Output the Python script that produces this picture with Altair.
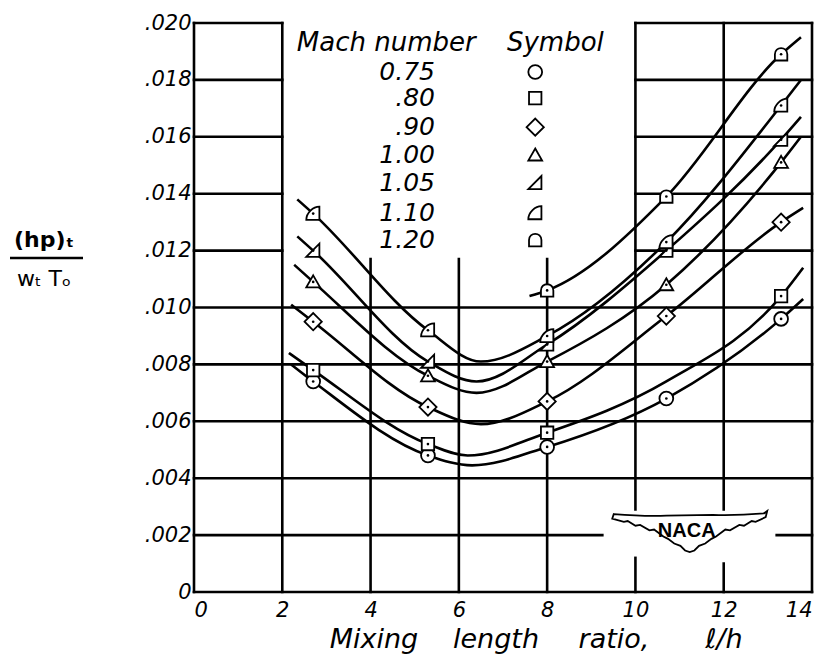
import altair as alt
import pandas as pd

# ---------------- data ----------------
mach_labels = ["0.75", ".80", ".90", "1.00", "1.05", "1.10", "1.20"]

# plotted symbols
sym_x_075 = [2.7, 5.3, 8.0, 10.7, 13.3]
sym_y_075 = [0.0074, 0.0048, 0.0051, 0.0068, 0.0096]
sym_x_080 = [2.7, 5.3, 8.0, 13.3]
sym_y_080 = [0.0078, 0.0052, 0.0056, 0.0104]
sym_x_090 = [2.7, 5.3, 8.0, 10.7, 13.3]
sym_y_090 = [0.0095, 0.0065, 0.0067, 0.0097, 0.0130]
sym_x_100 = [2.7, 5.3, 8.0, 10.7, 13.3]
sym_y_100 = [0.0109, 0.0076, 0.0081, 0.0108, 0.0151]
sym_x_105 = [2.7, 5.3, 8.0, 10.7, 13.3]
sym_y_105 = [0.0120, 0.0081, 0.0087, 0.0120, 0.0159]
sym_x_110 = [2.7, 5.3, 8.0, 10.7, 13.3]
sym_y_110 = [0.0133, 0.0092, 0.0090, 0.0123, 0.0171]
sym_x_120 = [8.0, 10.7, 13.3]
sym_y_120 = [0.0106, 0.0139, 0.0189]

# faired curves (ends, symbols and minima)
crv_x_075 = [2.2, 2.7, 5.3, 6.3, 8.0, 10.7, 13.3, 13.8]
crv_y_075 = [0.0080, 0.0074, 0.0048, 0.00445, 0.0051, 0.0068, 0.0096, 0.0103]
crv_x_080 = [2.15, 2.7, 5.3, 6.2, 8.0, 10.7, 13.3, 13.8]
crv_y_080 = [0.0084, 0.0078, 0.0052, 0.0048, 0.0056, 0.0074, 0.0104, 0.0114]
crv_x_090 = [2.2, 2.7, 5.3, 6.5, 8.0, 10.7, 13.3, 13.8]
crv_y_090 = [0.0101, 0.0095, 0.0065, 0.0059, 0.0067, 0.0097, 0.0130, 0.0135]
crv_x_100 = [2.27, 2.7, 5.3, 6.4, 8.0, 10.7, 13.3, 13.75]
crv_y_100 = [0.0115, 0.0109, 0.0076, 0.0070, 0.0081, 0.0108, 0.0151, 0.0160]
crv_x_105 = [2.34, 2.7, 5.3, 6.4, 8.0, 10.7, 13.3, 13.75]
crv_y_105 = [0.0125, 0.0120, 0.0081, 0.0074, 0.0087, 0.0120, 0.0159, 0.0167]
crv_x_110 = [2.34, 2.7, 5.3, 6.5, 8.0, 10.7, 13.3, 13.75]
crv_y_110 = [0.0138, 0.0133, 0.0092, 0.0081, 0.0090, 0.0123, 0.0171, 0.0180]
crv_x_120 = [7.6, 8.0, 10.7, 13.3, 13.75]
crv_y_120 = [0.0104, 0.0106, 0.0139, 0.0189, 0.0195]

x_ticks = [0, 2, 4, 6, 8, 10, 12, 14]
y_ticks = [0, 0.002, 0.004, 0.006, 0.008, 0.010, 0.012, 0.014, 0.016, 0.018, 0.020]

# grid segments (hand-drawn grid, broken around legend and emblem)
grid_x1 = [0, 10, 0, 10, 0, 10, 0, 10, 0, 10, 0, 0, 0, 0, 0, 13.2, 0,
           0, 2, 4, 6, 8, 10, 10, 12, 12, 14]
grid_x2 = [2, 14, 2, 14, 2, 14, 2, 14, 2, 14, 14, 14, 14, 14, 9.25, 14, 14,
           0, 2, 4, 6, 8, 10, 10, 12, 12, 14]
grid_y1 = [0.020, 0.020, 0.018, 0.018, 0.016, 0.016, 0.014, 0.014, 0.012, 0.012,
           0.010, 0.008, 0.006, 0.004, 0.002, 0.002, 0.0,
           0, 0, 0, 0, 0, 0, 0.0029, 0, 0.0029, 0]
grid_y2 = [0.020, 0.020, 0.018, 0.018, 0.016, 0.016, 0.014, 0.014, 0.012, 0.012,
           0.010, 0.008, 0.006, 0.004, 0.002, 0.002, 0.0,
           0.020, 0.020, 0.0117, 0.0117, 0.0117, 0.0012, 0.020, 0.0010, 0.020, 0.020]

# in-plot key
key_row_y = [0.01828, 0.01736, 0.01634, 0.01536, 0.01438, 0.01332, 0.01237]
key_text_x = [5.46] * 7
key_sym_x = [7.73] * 7
key_head_text = ["Mach number", "Symbol"]
key_head_x = [2.33, 7.09]
key_head_y = [0.0193, 0.0193]

# emblem position
logo_x = [11.23]
logo_y = [0.00214]

# ---------------- tables ----------------
sym_sets = [(sym_x_075, sym_y_075), (sym_x_080, sym_y_080), (sym_x_090, sym_y_090),
            (sym_x_100, sym_y_100), (sym_x_105, sym_y_105), (sym_x_110, sym_y_110),
            (sym_x_120, sym_y_120)]
crv_sets = [(crv_x_075, crv_y_075), (crv_x_080, crv_y_080), (crv_x_090, crv_y_090),
            (crv_x_100, crv_y_100), (crv_x_105, crv_y_105), (crv_x_110, crv_y_110),
            (crv_x_120, crv_y_120)]

sym_rows, crv_rows = [], []
for m, (xs, ys) in zip(mach_labels, sym_sets):
    sym_rows += [{"x": a, "y": b, "mach": m} for a, b in zip(xs, ys)]
for m, (xs, ys) in zip(mach_labels, crv_sets):
    crv_rows += [{"x": a, "y": b, "mach": m} for a, b in zip(xs, ys)]
sym_df = pd.DataFrame(sym_rows)
crv_df = pd.DataFrame(crv_rows)
grid_df = pd.DataFrame({"x1": grid_x1, "x2": grid_x2, "y1": grid_y1, "y2": grid_y2})
key_df = pd.DataFrame({"mach": mach_labels, "tx": key_text_x, "sx": key_sym_x, "y": key_row_y})
head_df = pd.DataFrame({"t": key_head_text, "x": key_head_x, "y": key_head_y})
logo_df = pd.DataFrame({"x": logo_x, "y": logo_y})
one = pd.DataFrame({"a": [0]})

# ---------------- styling ----------------
W, H = 618, 569
FONT = "DejaVu Sans"

shape_paths = [
    "M 1 0 A 1 1 0 1 1 -1 0 A 1 1 0 1 1 1 0 Z",
    "M -0.9 -0.9 L 0.9 -0.9 L 0.9 0.9 L -0.9 0.9 Z",
    "M -1.25 0 L 0 -1.25 L 1.25 0 L 0 1.25 Z",
    "M 0 -0.95 L 1 0.8 L -1 0.8 Z",
    "M -1 0.9 L 0.9 0.9 L 0.9 -1 Z",
    "M 0.9 0.9 L -1 0.9 C -1 -0.1 0 -1 0.9 -1 Z",
    "M -0.9 0.9 L 0.9 0.9 L 0.9 0 C 0.9 -1.2 -0.9 -1.2 -0.9 0 Z",
]
wing_path = ("M -1 -0.16 L -0.98 -0.22 Q -0.6 -0.19 -0.3 -0.2 L 0.3 -0.21 "
             "Q 0.6 -0.2 0.96 -0.23 L 1 -0.26 L 0.98 -0.18 "
             "L 0.85 -0.12 L 0.8 -0.13 L 0.7 -0.07 L 0.64 -0.08 L 0.52 -0.01 "
             "L 0.46 -0.02 L 0.34 0.07 L 0.28 0.1 L 0.2 0.16 L 0.12 0.19 L 0.06 0.25 "
             "L 0 0.27 L -0.06 0.25 L -0.12 0.19 L -0.2 0.16 L -0.28 0.1 L -0.34 0.07 "
             "L -0.46 -0.02 L -0.52 -0.01 L -0.64 -0.08 L -0.7 -0.07 L -0.8 -0.13 "
             "L -0.85 -0.12 Z")

X_SCALE = alt.Scale(domain=[0, 14], nice=False, zero=False)
Y_SCALE = alt.Scale(domain=[0, 0.020], nice=False, zero=False)
X_AXIS = alt.Axis(values=x_ticks, title=None, labelExpr="format(datum.value, 'd')",
                  labelPadding=7)
Y_AXIS = alt.Axis(values=y_ticks, title=None,
                  labelExpr="datum.value < 0.0001 ? '0' : '.' + format(round(datum.value * 1000), '03d')",
                  labelPadding=3)
SHAPE = alt.Scale(domain=mach_labels, range=shape_paths)


def X(f):
    return alt.X(f, type="quantitative", scale=X_SCALE, axis=X_AXIS)


def Y(f):
    return alt.Y(f, type="quantitative", scale=Y_SCALE, axis=Y_AXIS)


grid = alt.Chart(grid_df).mark_rule(color="black", strokeWidth=2.6, strokeCap="square").encode(
    x=X("x1"), x2="x2", y=Y("y1"), y2="y2")

lines = alt.Chart(crv_df).mark_line(interpolate="monotone", color="black", strokeWidth=2.6).encode(
    x=X("x"), y=Y("y"), detail="mach:N")

points = alt.Chart(sym_df).mark_point(filled=True, fill="white", stroke="black", strokeWidth=1.8,
                                      size=190, opacity=1, fillOpacity=1).encode(
    x=X("x"), y=Y("y"), shape=alt.Shape("mach:N", scale=SHAPE, legend=None))

dots = alt.Chart(sym_df).mark_point(shape="circle", filled=True, size=7, color="black", opacity=1).encode(
    x=X("x"), y=Y("y"))

key_syms = alt.Chart(key_df).mark_point(filled=True, fill="white", stroke="black", strokeWidth=1.8,
                                        size=190, opacity=1, fillOpacity=1).encode(
    x=X("sx"), y=Y("y"), shape=alt.Shape("mach:N", scale=SHAPE, legend=None))

key_text = alt.Chart(key_df).mark_text(align="right", baseline="middle", font=FONT,
                                       fontStyle="italic", fontSize=25, color="black").encode(
    x=X("tx"), y=Y("y"), text="mach:N")

head_text = alt.Chart(head_df).mark_text(align="left", baseline="middle", font=FONT,
                                         fontStyle="italic", fontSize=26, color="black").encode(
    x=X("x"), y=Y("y"), text="t:N")

wing = alt.Chart(logo_df).mark_point(shape=wing_path, size=24025, filled=True, fill="white",
                                     stroke="black", strokeWidth=1.8, opacity=1, fillOpacity=1).encode(
    x=X("x"), y=Y("y"))
naca = alt.Chart(logo_df).mark_text(text="NACA", font="Liberation Sans", fontSize=20, fontWeight="bold",
                                    baseline="middle", align="center", color="black", dx=-3, dy=0).encode(
    x=X("x"), y=Y("y"))

# axis titles (pixel positions relative to the plot area)
yt1 = alt.Chart(one).mark_text(text="(hp)ₜ", font=FONT, fontSize=22, fontWeight="bold",
                               align="center", baseline="middle").encode(
    x=alt.value(-150), y=alt.value(217))
ybar = alt.Chart(one).mark_rule(color="black", strokeWidth=2.5).encode(
    x=alt.value(-184), x2=alt.value(-111), y=alt.value(235))
yt2 = alt.Chart(one).mark_text(text="wₜ Tₒ", font=FONT, fontSize=22,
                               align="center", baseline="middle").encode(
    x=alt.value(-150), y=alt.value(256))

xtitle_words = ["Mixing", "length", "ratio,", "ℓ/h"]
xtitle_px = [180, 302, 420, 530]
xt_words = alt.Chart(pd.DataFrame({"w": xtitle_words, "px": xtitle_px})).mark_text(
    font=FONT, fontSize=27, fontStyle="italic", align="center", baseline="alphabetic").encode(
    x=alt.X("px:Q", scale=None), y=alt.value(625), text="w:N")

chart = alt.layer(
    grid, lines, points, dots, key_syms, key_text, head_text, wing, naca,
    yt1, ybar, yt2, xt_words
).properties(
    width=W, height=H,
    autosize=alt.AutoSizeParams(type="none"),
    padding={"left": 194, "top": 23, "right": 15, "bottom": 75},
    background="white",
).configure_view(stroke=None).configure_axis(
    domain=False, ticks=False, grid=False,
    labelFont=FONT, labelFontStyle="italic", labelFontSize=21, labelColor="black",
)

chart.save("out.html", embed_options={"renderer": "svg", "actions": False})
